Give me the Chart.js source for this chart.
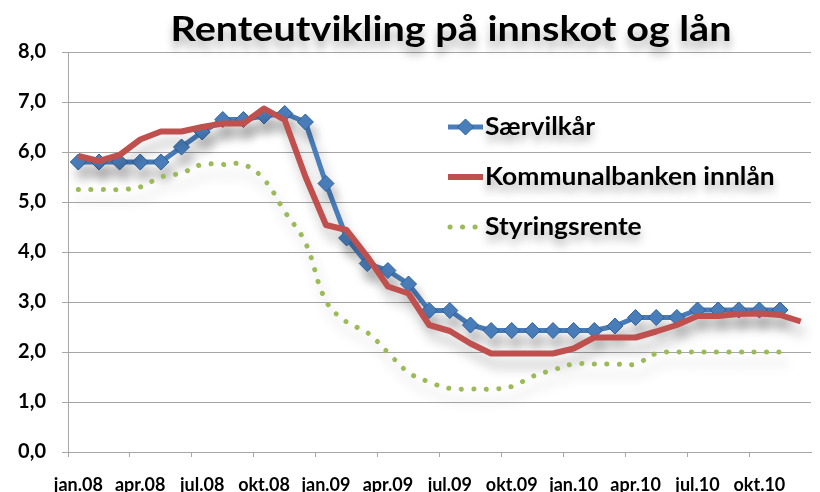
<!DOCTYPE html>
<html>
<head>
<meta charset="utf-8">
<script src="https://cdn.jsdelivr.net/npm/chart.js@4"></script>
<style>
    body { margin: 0; background: #fff; }
    #wrap { width: 820px; height: 492px; }
</style>
</head>
<body>
<div id="wrap"><canvas id="renteChart" width="820" height="492"></canvas></div>
<script>
// Monthly categories, labelled every third month
const months = [
    'jan.08', 'feb.08', 'mar.08', 'apr.08', 'mai.08', 'jun.08', 'jul.08', 'aug.08', 'sep.08', 'okt.08', 'nov.08', 'des.08',
    'jan.09', 'feb.09', 'mar.09', 'apr.09', 'mai.09', 'jun.09', 'jul.09', 'aug.09', 'sep.09', 'okt.09', 'nov.09', 'des.09',
    'jan.10', 'feb.10', 'mar.10', 'apr.10', 'mai.10', 'jun.10', 'jul.10', 'aug.10', 'sep.10', 'okt.10', 'nov.10', 'des.10'
];

const saervilkar = [
    5.8, 5.8, 5.8, 5.8, 5.8, 6.1, 6.4, 6.65, 6.65, 6.72, 6.77, 6.6,
    5.37, 4.28, 3.77, 3.63, 3.36, 2.83, 2.83, 2.54, 2.43, 2.43, 2.43, 2.43,
    2.43, 2.43, 2.52, 2.69, 2.69, 2.69, 2.84, 2.84, 2.84, 2.84, 2.84, null
];

const kommunalbanken = [
    5.92, 5.82, 5.94, 6.25, 6.41, 6.41, 6.5, 6.57, 6.57, 6.87, 6.64, 5.51,
    4.54, 4.44, 3.91, 3.31, 3.17, 2.54, 2.42, 2.17, 1.97, 1.97, 1.97, 1.97,
    2.07, 2.29, 2.29, 2.29, 2.41, 2.54, 2.72, 2.72, 2.76, 2.77, 2.74, 2.61
];

const styringsrente = [
    5.25, 5.25, 5.25, 5.3, 5.5, 5.58, 5.75, 5.75, 5.75, 5.45, 4.81, 4.19,
    3.02, 2.6, 2.39, 1.99, 1.59, 1.4, 1.27, 1.26, 1.26, 1.31, 1.51, 1.64,
    1.76, 1.76, 1.76, 1.76, 1.97, 2.0, 2.0, 2.0, 2.0, 2.0, 2.0, null
];

const seriesNames = ['Særvilkår', 'Kommunalbanken innlån', 'Styringsrente'];
const yTicks = [0, 1, 2, 3, 4, 5, 6, 7, 8];

const colors = {
    blue: '#4A7EBB',
    blueDark: '#2D5F96',
    red: '#C0504D',
    green: '#9BBB59',
    grid: '#A6A6A6'
};

const FONT = 'Lato, "Open Sans", sans-serif';

// soft drop shadow under the series, like the Excel effect
const shadowPlugin = {
    id: 'seriesShadow',
    beforeDatasetsDraw(chart) {
        const ctx = chart.ctx;
        ctx.save();
        ctx.shadowColor = 'rgba(0, 0, 0, 0.25)';
        ctx.shadowBlur = 12;
        ctx.shadowOffsetX = 4;
        ctx.shadowOffsetY = 11;
    },
    afterDatasetsDraw(chart) {
        chart.ctx.restore();
    }
};

// text is a little wider than Lato, so stretch it sideways
function wideText(ctx, text, x, y, stretch) {
    ctx.save();
    ctx.translate(x, y);
    ctx.scale(stretch, 1);
    ctx.fillText(text, 0, 0);
    ctx.restore();
}

// title and the legend that sits inside the plot area
const overlayPlugin = {
    id: 'overlay',
    afterDraw(chart) {
        const ctx = chart.ctx;

        ctx.save();
        ctx.shadowColor = 'rgba(0, 0, 0, 0.3)';
        ctx.shadowBlur = 8;
        ctx.shadowOffsetY = 8;
        ctx.fillStyle = '#000';
        ctx.font = `bold 35px ${FONT}`;
        ctx.textAlign = 'center';
        ctx.textBaseline = 'alphabetic';
        wideText(ctx, 'Renteutvikling på innskot og lån', 451, 41, 1.13);
        ctx.restore();

        const rows = [127, 177, 227];
        const x0 = 448, x1 = 483;
        chart.data.datasets.forEach((ds, i) => {
            const y = rows[i];
            ctx.save();
            ctx.strokeStyle = ds.borderColor;
            ctx.lineWidth = ds.borderWidth;
            ctx.lineCap = ds.borderCapStyle || 'butt';
            ctx.setLineDash(ds.borderDash || []);
            ctx.beginPath();
            ctx.moveTo(ds.borderDash ? x0 + 2 : x0, y);
            ctx.lineTo(x1, y);
            ctx.stroke();
            ctx.setLineDash([]);
            if (ds.pointRadius > 0) {
                const r = ds.pointRadius;
                const cx = (x0 + x1) / 2;
                ctx.beginPath();
                ctx.moveTo(cx, y - r);
                ctx.lineTo(cx + r, y);
                ctx.lineTo(cx, y + r);
                ctx.lineTo(cx - r, y);
                ctx.closePath();
                ctx.fillStyle = ds.pointBackgroundColor;
                ctx.fill();
                ctx.lineWidth = 1;
                ctx.strokeStyle = ds.pointBorderColor;
                ctx.stroke();
            }
            ctx.shadowColor = 'rgba(0, 0, 0, 0.3)';
            ctx.shadowBlur = 8;
            ctx.shadowOffsetY = 7;
            ctx.fillStyle = '#000';
            ctx.font = `bold 24px ${FONT}`;
            ctx.textAlign = 'left';
            ctx.textBaseline = 'alphabetic';
            wideText(ctx, ds.label, x1 + 2, y + 8, 1.1);
            ctx.restore();
        });
    }
};

const ctx = document.getElementById('renteChart').getContext('2d');
new Chart(ctx, {
    type: 'line',
    data: {
        labels: months,
        datasets: [{
            label: seriesNames[0],
            data: saervilkar,
            borderColor: colors.blue,
            borderWidth: 5,
            pointStyle: 'rectRot',
            pointRadius: 8,
            pointBackgroundColor: colors.blue,
            pointBorderColor: colors.blueDark,
            pointBorderWidth: 1,
            tension: 0,
            order: 3
        }, {
            label: seriesNames[1],
            data: kommunalbanken,
            borderColor: colors.red,
            borderWidth: 6,
            borderJoinStyle: 'round',
            pointRadius: 0,
            tension: 0,
            order: 2
        }, {
            label: seriesNames[2],
            data: styringsrente,
            borderColor: colors.green,
            borderWidth: 5,
            borderDash: [0.1, 12.4],
            borderCapStyle: 'round',
            pointRadius: 0,
            tension: 0.4,
            order: 1
        }]
    },
    options: {
        responsive: false,
        animation: false,
        events: [],
        layout: {
            padding: { top: 52, right: 0, bottom: 0, left: 0 }
        },
        plugins: {
            legend: { display: false },
            title: { display: false },
            tooltip: { enabled: false }
        },
        scales: {
            x: {
                type: 'category',
                offset: true,
                grid: {
                    offset: true,
                    drawOnChartArea: false,
                    tickLength: 5,
                    color: (c) => (c.index % 3 === 0 ? colors.grid : 'rgba(0,0,0,0)')
                },
                border: { color: colors.grid, width: 1 },
                ticks: {
                    autoSkip: false,
                    maxRotation: 0,
                    padding: 17,
                    color: '#000',
                    font: { family: FONT, weight: 'bold', size: 18 },
                    callback: (value, index) => (index % 3 === 0 ? months[index] : '')
                },
                afterFit: (scale) => { scale.height = 40; }
            },
            y: {
                min: yTicks[0],
                max: yTicks[yTicks.length - 1],
                grid: { color: colors.grid, tickLength: 6 },
                border: { color: colors.grid, width: 1 },
                ticks: {
                    stepSize: 1,
                    padding: 16,
                    color: '#000',
                    font: { family: FONT, weight: 'bold', size: 20 },
                    callback: (v) => v.toFixed(1).replace('.', ',')
                },
                afterFit: (scale) => { scale.width = 68; }
            }
        }
    },
    plugins: [shadowPlugin, overlayPlugin]
});
</script>
</body>
</html>
